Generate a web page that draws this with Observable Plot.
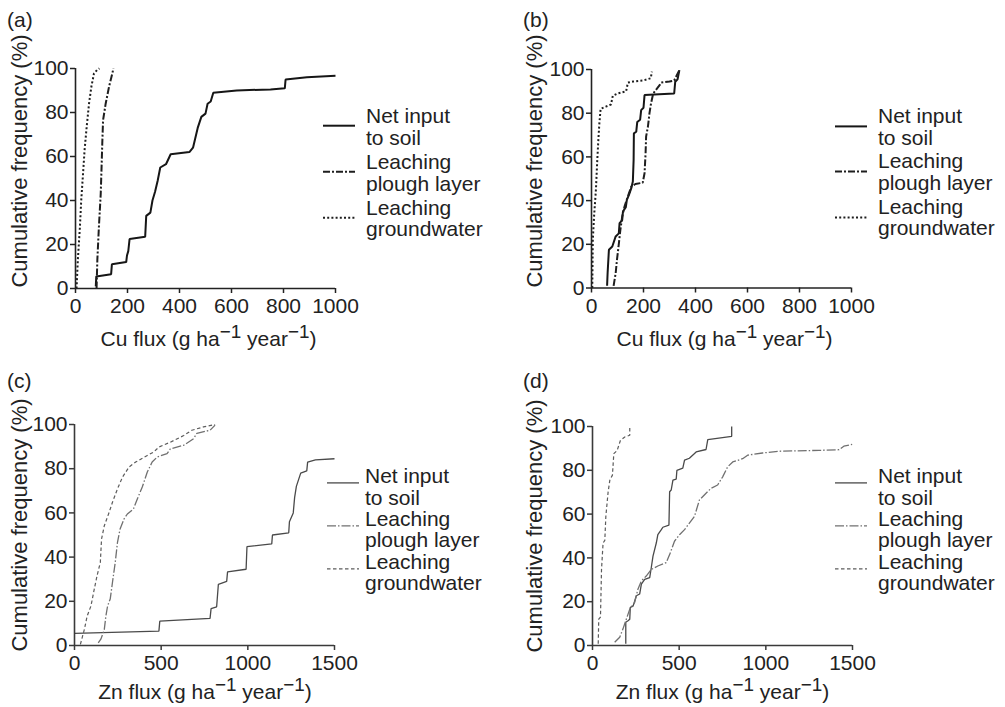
<!DOCTYPE html>
<html>
<head>
<meta charset="utf-8">
<script src="https://cdn.jsdelivr.net/npm/d3@7"></script>
<script src="https://cdn.jsdelivr.net/npm/@observablehq/plot@0.6"></script>
<style>
  html, body { margin: 0; padding: 0; background: #fff; }
  #root { position: relative; width: 1005px; height: 707px; overflow: hidden; background: #fff;
          font-family: "Liberation Sans", Arial, Helvetica, sans-serif; color: #222; }
  .abs { position: absolute; }
  .plabel { font-size: 21px; line-height: 21px; white-space: nowrap; }
  .ylab { font-size: 22px; line-height: 22px; white-space: nowrap; width: 320px; text-align: center; }
  .xlab { font-size: 21px; line-height: 21px; white-space: nowrap; width: 320px; text-align: center; }
  .sup { font-size: 0.9em; vertical-align: 0.42em; line-height: 0; }
  .legend { font-size: 21px; white-space: nowrap; }
  .entry { display: flex; align-items: flex-start; }
  .entry svg { display: block; flex: none; }
</style>
</head>
<body>
<div id="root"></div>
<script>
// ---------- data ----------
const yTicks = [0, 20, 40, 60, 80, 100];
const cuTicks = [0, 200, 400, 600, 800, 1000];
const znTicks = [0, 500, 1000, 1500];
const panelLetters = ["(a)", "(b)", "(c)", "(d)"];
const yTitle = "Cumulative frequency (%)";
const xTitleCu = "Cu flux (g ha";
const xTitleZn = "Zn flux (g ha";
const seriesNames = [["Net input", "to soil"], ["Leaching", "plough layer"], ["Leaching", "groundwater"]];

// (a) Cu
const cuNetInputA = [[78,1],[80,5.5],[137,6.5],[140,11],[195,12],[198,15],[203,17],[208,22.5],[268,23.5],[272,33],[288,34.5],[296,40],[306,44],[316,49],[326,55],[348,56.5],[366,61],[438,62],[452,64],[460,68],[470,73],[484,78],[500,79.5],[508,84],[520,85],[530,89],[620,90],[750,90.5],[805,91],[808,95],[890,96],[1000,96.7]];
const cuPloughA = [[81,0],[84,13],[90,28],[97,43],[101,58],[103,66],[106,76.5],[116,84],[129,91.7],[138,96],[146,100]];
const cuGroundA = [[4,0],[9,13],[17,28],[22,40],[30,54],[35,63],[43,73.5],[52,84],[61,91.7],[71,97.7],[84,99.5],[92,100]];
// (b) Cu
const cuNetInputB = [[60,1],[62,7],[67,17.5],[80,19],[93,23.6],[105,25],[108,29.7],[118,31],[121,35],[132,37],[136,40.3],[144,42.6],[153,45.7],[159,48.7],[162,58.6],[163,70.8],[172,71.5],[176,76],[187,77],[191,81.4],[200,82.5],[204,88.3],[318,89],[322,94.4],[331,95.5],[338,99.7]];
const cuPloughB = [[85,1],[93,6.8],[98,13],[104,19],[111,26.6],[118,32.7],[127,37.3],[140,41.9],[153,46.4],[169,47.6],[197,48.2],[204,52.5],[208,61.6],[210,69.3],[217,73.8],[223,80],[229,84.5],[236,88.3],[242,89.8],[262,92.8],[268,94],[300,94.5],[318,95],[338,99.7]];
const cuGroundB = [[3,0],[5,22],[10,33],[17,45],[22,58],[26,67],[30,75],[35,82],[55,83],[75,84],[82,88],[100,89],[133,90],[140,94],[160,94.5],[200,95],[228,96],[232,99]];
// (c) Zn
const znNetInputC = [[0,5.5],[487,6.5],[492,11],[782,12.3],[788,16.7],[820,17.5],[830,27.7],[878,29],[883,33.3],[990,34.5],[995,44.7],[1138,46],[1142,50],[1236,51],[1240,56],[1262,60],[1270,67],[1280,72],[1305,78],[1340,79],[1345,83],[1390,84],[1500,84.5]];
const znPloughC = [[137,1.2],[153,3],[172,7.3],[181,13.3],[191,17.9],[206,21],[219,28.5],[235,37.6],[248,46.7],[263,52.7],[286,57.3],[305,59.5],[340,61.8],[363,66.4],[391,71.7],[420,78.5],[448,83],[477,85.3],[534,86.8],[553,89],[630,90.6],[687,93.6],[706,96],[782,97.4],[811,99.7]];
const znGroundC = [[34,0.5],[57,7.3],[73,13.3],[95,17.9],[114,25.5],[130,31.5],[149,37.6],[156,48.2],[172,54.2],[200,60.3],[219,64.8],[248,70.9],[277,76.2],[315,80.8],[353,83],[420,86],[458,87.6],[487,89.8],[553,92],[630,95],[677,97.4],[744,98.9],[811,100]];
// (d) Zn
const znNetInputD = [[192,0.8],[192,10.6],[205,11.3],[215,12],[218,17.4],[234,18],[253,22.7],[272,23.5],[282,28],[301,30.2],[330,31],[339,35.5],[349,40.8],[368,46.8],[377,50.6],[397,52.9],[406,54],[441,55],[445,70.2],[454,71],[464,75.5],[483,76],[487,80],[521,81],[531,84.6],[559,85.5],[598,88.4],[655,89.5],[665,94],[803,95.5],[803,100]];
const znPloughD = [[128,1.5],[157,3.8],[176,7.6],[195,12],[215,16.6],[243,19.6],[262,25.7],[282,29.5],[310,31.7],[339,34.7],[377,36.3],[425,37.8],[445,41.5],[473,47.6],[502,50.6],[531,52.9],[559,55.9],[588,58.9],[617,66.5],[655,69.5],[684,71.8],[722,73.3],[751,77],[780,81.6],[809,83.8],[866,85.3],[895,86.9],[981,87.9],[1077,88.7],[1307,89.1],[1422,89.4],[1450,91],[1498,91.8]];
const znGroundD = [[33,0.8],[36,12],[46,13],[52,34.7],[61,46.8],[71,48],[77,59],[90,70],[100,75.5],[115,77.8],[123,87.6],[142,89],[161,93.6],[186,95.2],[215,96],[215,100]];

// ---------- styles ----------
const darkStyles = [
  {stroke: "#161616", strokeWidth: 2, dash: null},
  {stroke: "#1e1e1e", strokeWidth: 2, dash: "7,2,2,2"},
  {stroke: "#1e1e1e", strokeWidth: 2, dash: "2,2.2"}
];
const greyStyles = [
  {stroke: "#4a4a4a", strokeWidth: 1.3, dash: null},
  {stroke: "#707070", strokeWidth: 1.3, dash: "9,2,1.5,2"},
  {stroke: "#5c5c5c", strokeWidth: 1.2, dash: "3.5,2.5"}
];

const LH = 21.3;            // legend line height
const BASE = 17.9;          // baseline offset inside a legend line

const panels = [
  {left: 0,   top: 0,   w: 500, h: 345, mt: 68, mb: 57, ml: 75, mr: 165, xmax: 1000, ticks: cuTicks, data: [cuNetInputA, cuPloughA, cuGroundA], st: darkStyles, axis: "#222",
   letter: [7, 27], ylab: [19.5, 160.5], xlab: [208.5, 346], xt: xTitleCu, leg: {x: 323, base: 123.3, gap: 3.3, sOff: 2.8, tx: 11}},
  {left: 500, top: 0,   w: 500, h: 345, mt: 69, mb: 57.5, ml: 91, mr: 149, xmax: 1000, ticks: cuTicks, data: [cuNetInputB, cuPloughB, cuGroundB], st: darkStyles, axis: "#222",
   letter: [523, 27], ylab: [535, 161], xlab: [724.5, 346], xt: xTitleCu, leg: {x: 835, base: 123.3, gap: 2.5, sOff: 3.5, tx: 11}},
  {left: 0,   top: 345, w: 500, h: 362, mt: 79, mb: 62, ml: 74, mr: 166, xmax: 1500, ticks: znTicks, data: [znNetInputC, znPloughC, znGroundC], st: greyStyles, axis: "#3a3a3a",
   letter: [7, 388], ylab: [19.5, 525], xlab: [205, 699], xt: xTitleZn, leg: {x: 327, base: 483.3, gap: 0, sOff: 0, tx: 6}},
  {left: 500, top: 345, w: 500, h: 362, mt: 81, mb: 62, ml: 92, mr: 148, xmax: 1500, ticks: znTicks, data: [znNetInputD, znPloughD, znGroundD], st: greyStyles, axis: "#3a3a3a",
   letter: [523, 388], ylab: [535, 526], xlab: [722.5, 699], xt: xTitleZn, leg: {x: 835, base: 483.3, gap: 0, sOff: 0, tx: 11}}
];

const root = document.getElementById("root");

panels.forEach((p, i) => {
  const chart = Plot.plot({
    width: p.w, height: p.h,
    marginTop: p.mt, marginBottom: p.mb, marginLeft: p.ml, marginRight: p.mr,
    x: {domain: [0, p.xmax]},
    y: {domain: [0, 100]},
    style: {fontSize: "21px", fontFamily: "'Liberation Sans', Arial, Helvetica, sans-serif", color: "#222", background: "transparent", overflow: "visible"},
    marks: [
      Plot.axisX({ticks: p.ticks, tickSize: 5, tickPadding: 5, label: null, stroke: p.axis, strokeWidth: 1.5, tickFormat: d => String(d)}),
      Plot.axisY({ticks: yTicks, tickSize: 5, tickPadding: 2, label: null, stroke: p.axis, strokeWidth: 1.5}),
      ...p.data.map((d, k) => Plot.line(d, {
        x: v => v[0], y: v => v[1],
        stroke: p.st[k].stroke, strokeWidth: p.st[k].strokeWidth,
        strokeDasharray: p.st[k].dash, strokeLinejoin: "miter", strokeLinecap: "butt"
      })),
      Plot.ruleX([0], {stroke: p.axis, strokeWidth: 1.6}),
      Plot.ruleY([0], {stroke: p.axis, strokeWidth: 1.6})
    ]
  });
  const holder = document.createElement("div");
  holder.className = "abs";
  holder.style.left = p.left + "px";
  holder.style.top = p.top + "px";
  holder.style.width = p.w + "px";
  holder.style.height = p.h + "px";
  holder.appendChild(chart);
  root.appendChild(holder);

  // panel letter (baseline at letter[1])
  const lt = document.createElement("div");
  lt.className = "abs plabel";
  lt.textContent = panelLetters[i];
  lt.style.left = p.letter[0] + "px";
  lt.style.top = (p.letter[1] - 17.8) + "px";
  root.appendChild(lt);

  // y title, rotated
  const yl = document.createElement("div");
  yl.className = "abs ylab";
  yl.textContent = yTitle;
  yl.style.left = (p.ylab[0] - 160) + "px";
  yl.style.top = (p.ylab[1] - 11) + "px";
  yl.style.transform = "rotate(-90deg)";
  yl.style.transformOrigin = "160px 11px";
  root.appendChild(yl);

  // x title with superscripts
  const xl = document.createElement("div");
  xl.className = "abs xlab";
  xl.innerHTML = p.xt + '<span class="sup">\u22121</span> year<span class="sup">\u22121</span>)';
  xl.style.left = (p.xlab[0] - 160) + "px";
  xl.style.top = (p.xlab[1] - 17.8) + "px";
  root.appendChild(xl);

  // legend
  const lg = document.createElement("div");
  lg.className = "abs legend";
  lg.style.left = p.leg.x + "px";
  lg.style.top = (p.leg.base - BASE) + "px";
  seriesNames.forEach((names, k) => {
    const e = document.createElement("div");
    e.className = "entry";
    e.style.marginBottom = p.leg.gap + "px";
    e.style.lineHeight = LH + "px";
    const sampleW = 32;
    const ns = "http://www.w3.org/2000/svg";
    const svg = document.createElementNS(ns, "svg");
    svg.setAttribute("width", sampleW);
    svg.setAttribute("height", LH * 2);
    const ln = document.createElementNS(ns, "line");
    const ly = BASE + p.leg.sOff;
    ln.setAttribute("x1", 0); ln.setAttribute("x2", sampleW);
    ln.setAttribute("y1", ly); ln.setAttribute("y2", ly);
    ln.setAttribute("stroke", p.st[k].stroke);
    ln.setAttribute("stroke-width", p.st[k].strokeWidth);
    if (p.st[k].dash) ln.setAttribute("stroke-dasharray", p.st[k].dash);
    svg.appendChild(ln);
    const t = document.createElement("div");
    t.style.marginLeft = p.leg.tx + "px";
    t.innerHTML = names[0] + "<br>" + names[1];
    e.appendChild(svg);
    e.appendChild(t);
    lg.appendChild(e);
  });
  root.appendChild(lg);
});
</script>
</body>
</html>
